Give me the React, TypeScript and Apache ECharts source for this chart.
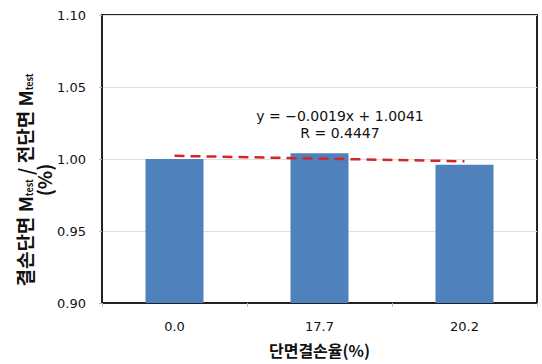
import React, { useEffect, useRef } from "react";
import * as echarts from "echarts";

// Section-loss ratio categories and moment ratio per specimen group
const categories = ["0.0", "17.7", "20.2"];
const momentRatio = [1.0, 1.004, 0.996];
// Linear fit reported on the chart
const fitSlope = -0.0019;
const fitIntercept = 1.0041;
const fitR = 0.4447;
const yTicks = { min: 0.9, max: 1.1, interval: 0.05 };

const numFont = "'DejaVu Sans', 'Noto Sans', sans-serif";
const krFont = "'Noto Sans CJK KR', 'Noto Sans', sans-serif";

export default function App() {
  const ref = useRef<HTMLDivElement>(null);

  useEffect(() => {
    if (!ref.current) return;
    const chart = echarts.init(ref.current, undefined, { renderer: "svg" });
    const trend = categories.map((_, i) => fitIntercept + fitSlope * (i + 1));
    const sign = fitSlope < 0 ? "−" : "+";
    chart.setOption({
      animation: false,
      backgroundColor: "#ffffff",
      grid: {
        left: 102,
        right: 5,
        top: 15,
        bottom: 61,
        outerBoundsMode: "none",
        containLabel: false,
        show: true,
        borderColor: "#222",
        borderWidth: 2,
        backgroundColor: "transparent",
      },
      xAxis: {
        type: "category",
        data: categories,
        boundaryGap: true,
        axisLine: { show: true, lineStyle: { color: "#222", width: 2 } },
        axisTick: { show: true, alignWithLabel: false, length: 4, lineStyle: { color: "#bbb" } },
        axisLabel: { color: "#111", fontSize: 13, fontFamily: numFont, margin: 17 },
        name: "단면결손율(%)",
        nameLocation: "middle",
        nameGap: 39,
        nameTextStyle: { color: "#111", fontSize: 16, fontWeight: "bold", fontFamily: krFont },
      },
      yAxis: {
        type: "value",
        min: yTicks.min,
        max: yTicks.max,
        interval: yTicks.interval,
        axisLine: { show: true, lineStyle: { color: "#222", width: 2 } },
        axisTick: { show: true, length: 3, lineStyle: { color: "#bbb" } },
        splitLine: { show: true, lineStyle: { color: "#e0e0e0", width: 1 } },
        axisLabel: {
          color: "#111",
          fontSize: 13,
          fontFamily: numFont,
          margin: 16,
          formatter: (v: number) => v.toFixed(2),
        },
      },
      series: [
        {
          type: "bar",
          data: momentRatio,
          barWidth: "40%",
          itemStyle: { color: "#4f81bd" },
        },
        {
          type: "line",
          data: trend,
          symbol: "none",
          lineStyle: { color: "#d62728", width: 2.5, type: [10, 6] },
          z: 5,
        },
      ],
      graphic: [
        {
          type: "text",
          x: 340,
          y: 116,
          style: {
            text: `y = ${sign}${Math.abs(fitSlope).toFixed(4)}x + ${fitIntercept.toFixed(4)}`,
            fill: "#111",
            font: `14px ${numFont}`,
            textAlign: "center",
            textVerticalAlign: "middle",
          },
        },
        {
          type: "text",
          x: 340,
          y: 133,
          style: {
            text: `R = ${fitR.toFixed(4)}`,
            fill: "#111",
            font: `14px ${numFont}`,
            textAlign: "center",
            textVerticalAlign: "middle",
          },
        },
        {
          type: "text",
          x: 34,
          y: 180,
          rotation: Math.PI / 2,
          style: {
            text: "결손단면 M{s|test} / 전단면 M{s|test}\n(%)",
            fill: "#111",
            font: `bold 19px ${krFont}`,
            textAlign: "center",
            textVerticalAlign: "middle",
            lineHeight: 19,
            rich: {
              s: { fontSize: 9, fontWeight: "bold", fontFamily: krFont, fill: "#111", padding: [9, 0, 0, 0] },
            },
          },
        },
      ],
    });
    return () => chart.dispose();
  }, []);

  return <div ref={ref} style={{ width: 542, height: 364, position: "absolute", left: 0, top: 0 }} />;
}
